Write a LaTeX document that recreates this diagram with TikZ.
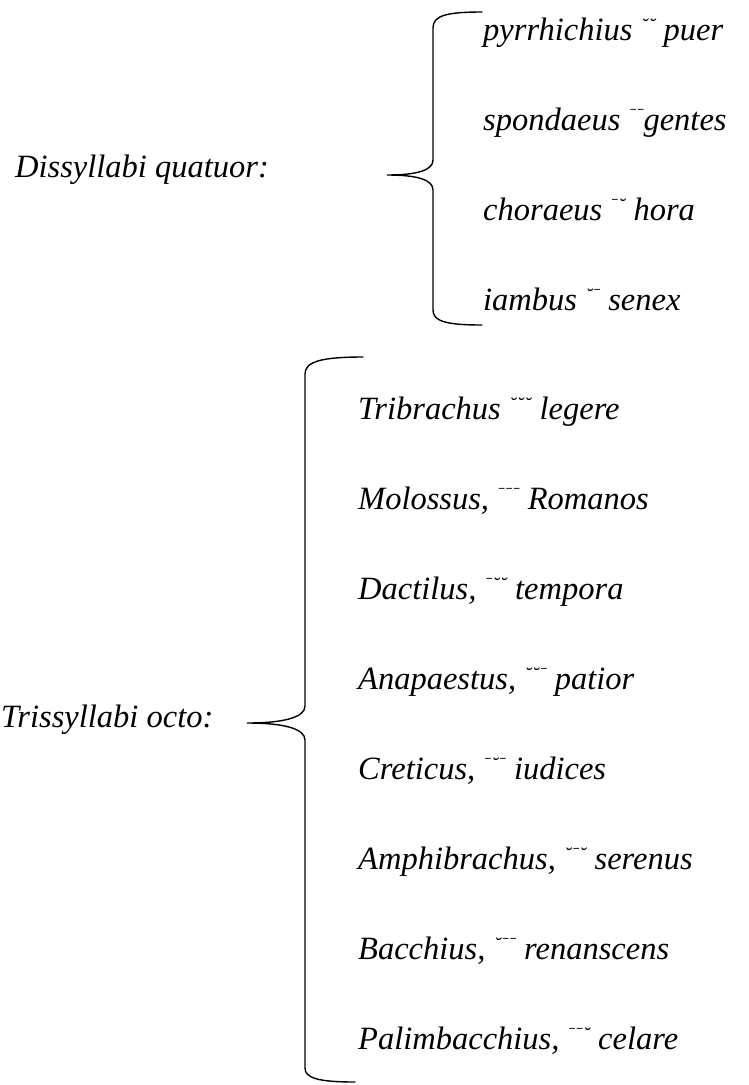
\documentclass[tikz,border=0pt]{standalone}
\usepackage{fontspec}
\setmainfont{Liberation Serif}
\newcommand{\brevis}{\makebox[7.5pt]{\fontsize{20}{20}\selectfont\raisebox{8pt}{˘}}}
\newcommand{\longa}{\makebox[7.5pt]{\fontsize{20}{20}\selectfont\raisebox{6pt}{\scalebox{0.55}[1]{¯}}}}

\begin{document}
\begin{tikzpicture}[x=1pt,y=-1pt]
\tikzset{versus/.style={anchor=base west,inner sep=0pt,font=\fontsize{32.5}{38}\selectfont\itshape},
         titulus/.style={inner sep=0pt,font=\fontsize{32.5}{38}\selectfont\itshape},
         uncus/.style={line width=1.4pt,line cap=round}}
\useasboundingbox (0,0) rectangle (749,1085);

% dissyllabi
\node[titulus,anchor=base west] (dis) at (15,177) {Dissyllabi quatuor:};
\node[versus] (pyr) at (483,40) {pyrrhichius \brevis\brevis{} puer};
\node[versus] (spo) at (483,130) {spondaeus \longa\longa{}gentes};
\node[versus] (cho) at (483,220) {choraeus \longa\brevis{} hora};
\node[versus] (iam) at (483,310) {iambus \brevis\longa{} senex};
\coordinate (b1t) at (482,12);
\coordinate (b1m) at (387,175);
\coordinate (b1b) at (482,325);
\draw[uncus] (b1t) .. controls (445,12) and (433,16) .. (433,28) -- (433,160)
  .. controls (433,170) and (418,175) .. (b1m)
  .. controls (418,175) and (433,180) .. (433,190) -- (433,310)
  .. controls (433,321) and (445,325) .. (b1b);

% trissyllabi
\node[titulus,anchor=base west] (tri) at (1,727) {Trissyllabi octo:};
\node[versus] (t1) at (358,419) {Tribrachus \brevis\brevis\brevis{} legere};
\node[versus] (t2) at (358,509) {Molossus, \longa\longa\longa{} Romanos};
\node[versus] (t3) at (358,599) {Dactilus, \longa\brevis\brevis{} tempora};
\node[versus] (t4) at (358,689) {Anapaestus, \brevis\brevis\longa{} patior};
\node[versus] (t5) at (358,779) {Creticus, \longa\brevis\longa{} iudices};
\node[versus] (t6) at (358,869) {Amphibrachus, \brevis\longa\brevis{} serenus};
\node[versus] (t7) at (358,959) {Bacchius, \brevis\longa\longa{} renanscens};
\node[versus] (t8) at (358,1049) {Palimbacchius, \longa\longa\brevis{} celare};
\coordinate (b2t) at (363,357);
\coordinate (b2m) at (247,723);
\coordinate (b2b) at (355,1082);
\draw[uncus] (b2t) .. controls (320,357) and (305,362) .. (305,374) -- (305,706)
  .. controls (305,717) and (285,723) .. (b2m)
  .. controls (285,723) and (305,729) .. (305,740) -- (305,1068)
  .. controls (305,1078) and (318,1082) .. (b2b);
\end{tikzpicture}
\end{document}
